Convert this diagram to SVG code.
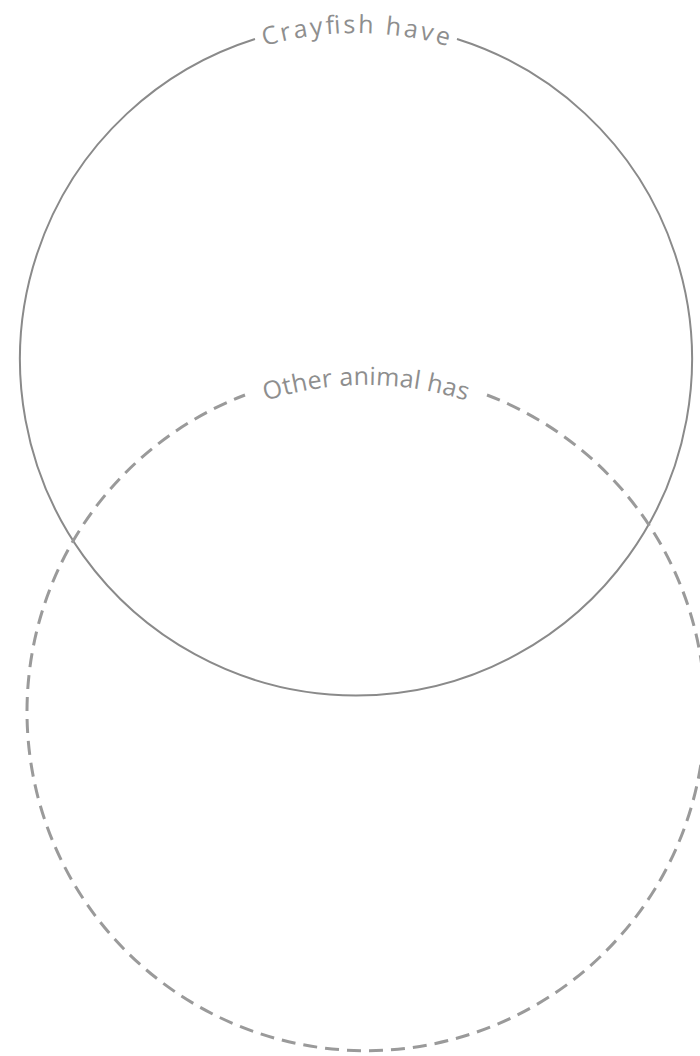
<svg xmlns="http://www.w3.org/2000/svg" width="700" height="1056" viewBox="0 0 700 1056">
  <style>
    .solid { fill: none; stroke: #8a8a8a; stroke-width: 2; }
    .dashed { fill: none; stroke: #9a9a9a; stroke-width: 3; stroke-dasharray: 14 8; }
    .lbl { font-family: "Open Sans", "Noto Sans", sans-serif; font-size: 25px; fill: #8e8e8e; }
  </style>
  <defs>
    <path id="arcA" d="M 29,360 A 327 327 0 0 1 683,360"/>
    <path id="arcB" d="M 39,712 A 327 327 0 0 1 693,712"/>
  </defs>
  <g id="crayfish">
    <path class="solid" d="M 457,39 A 336 336 0 1 1 255,39"/>
    <text class="lbl"><textPath href="#arcA" startOffset="50%" text-anchor="middle" textLength="186" lengthAdjust="spacing">Crayfish have</textPath></text>
  </g>
  <g id="other">
    <path class="dashed" d="M 487,395 A 339 339 0 1 1 245,395"/>
    <text class="lbl"><textPath href="#arcB" startOffset="50%" text-anchor="middle" textLength="204" lengthAdjust="spacing">Other animal has</textPath></text>
  </g>
  <g id="connectors"/>
</svg>
